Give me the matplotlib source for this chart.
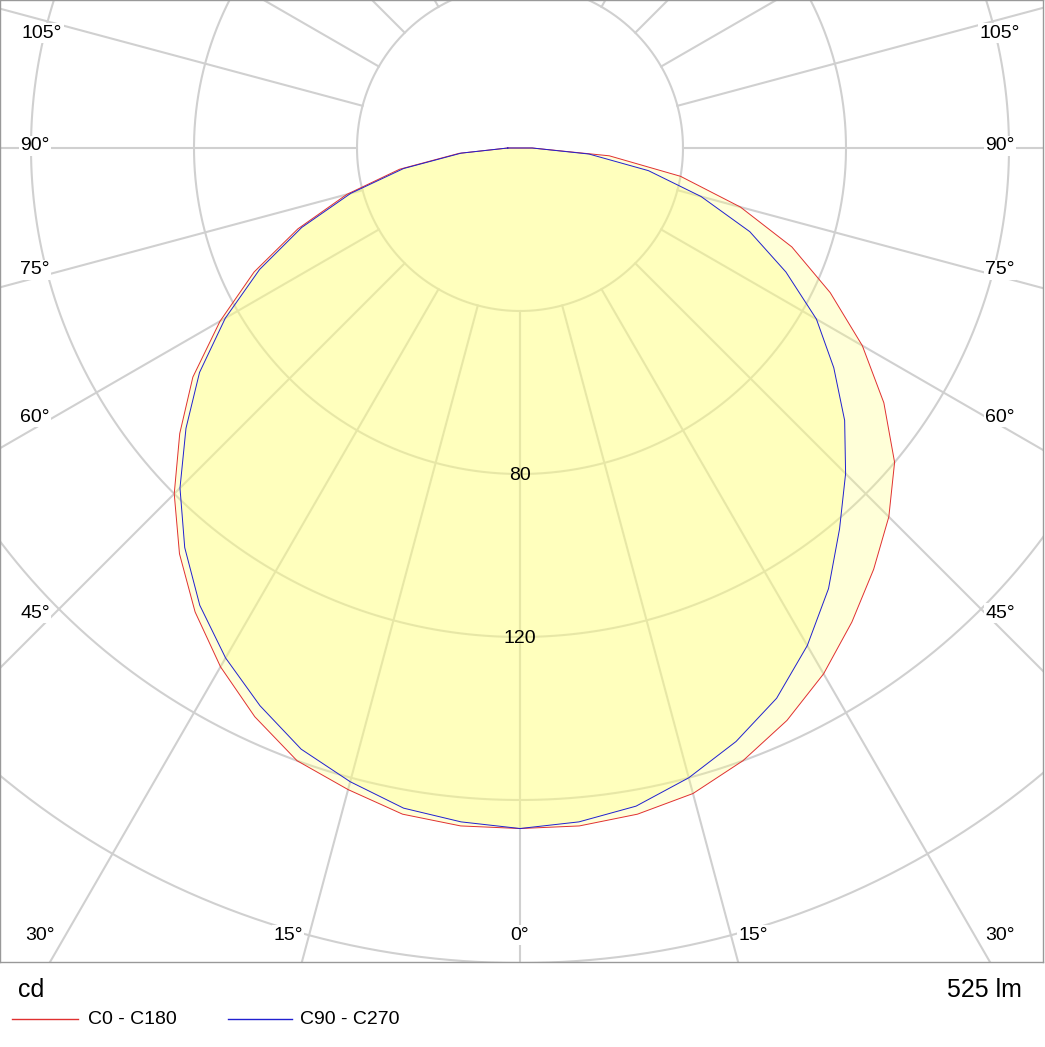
import numpy as np
import matplotlib
matplotlib.use("Agg")
import matplotlib.pyplot as plt
plt.rcParams['font.family'] = ['Liberation Sans', 'DejaVu Sans']

gamma = np.arange(0, 91, 5)
c0 = [167,167,166,164,160,155,149,142,135,128,120,109,97,84,71,56,40,22,3]      # C0 (right)
c180 = [167,167,166,163,160,154,147,139,130,120,109,98,85,72,58,44,30,15,3]     # C180 (left)
c90 = [167,166,164,160,155,149,141,132,122,113,104,94,84,72,60,46,32,17,3]      # C90 (right)
c270 = [167,166,164.5,161,157,151,144.5,137,128,118,107,96,83.5,70.5,57,43,29,14.5,3]  # C270 (left)
radii = [40, 80, 120, 160, 200, 240, 280]
radius_labels = {80: "80", 120: "120"}
angle_labels = ["105°", "90°", "75°", "60°", "45°", "30°", "15°", "0°"]
flux = "525 lm"
unit = "cd"

S = 4.075  # px per cd
CX, CY = 520, 148
def px(x, y):
    return (x - CX) / S, (CY - y) / S

W, H = 1045, 1047
fig = plt.figure(figsize=(W/100, H/100), dpi=100)
ax = fig.add_axes([0, (H-962)/H, 1043/W, 962/H])
ax.set_xlim(px(0, 0)[0], px(1043, 0)[0])
ax.set_ylim(px(0, 962)[1], px(0, 0)[1])
ax.set_xticks([]); ax.set_yticks([])
for s in ax.spines.values():
    s.set_color("#999999"); s.set_linewidth(1)

gc = "#d0d0d0"
t = np.linspace(0, 2*np.pi, 721)
for r in radii:
    ax.plot(r*np.cos(t), r*np.sin(t), color=gc, lw=1.5, zorder=1)
for a in range(0, 360, 15):
    ar = np.radians(a)
    ax.plot([40*np.sin(ar), 400*np.sin(ar)], [-40*np.cos(ar), -400*np.cos(ar)], color=gc, lw=1.5, zorder=1)

def curve(right, left):
    g = np.radians(gamma)
    r = np.array(right, float); l = np.array(left, float)
    xr, yr = r*np.sin(g), -r*np.cos(g)
    xl, yl = -l*np.sin(g), -l*np.cos(g)
    x = np.concatenate([xl[::-1], xr[1:]])
    y = np.concatenate([yl[::-1], yr[1:]])
    return x, y

for right, left, col in [(c0, c180, "#e03030"), (c90, c270, "#2020d0")]:
    x, y = curve(right, left)
    ax.fill(x, y, color="#ffff80", alpha=0.3, lw=0, zorder=2)
    ax.plot(np.append(x, x[0]), np.append(y, y[0]), color=col, lw=0.7, zorder=3)

for val, txt in radius_labels.items():
    ax.text(0, -val - 0.3, txt, ha="center", va="center", fontsize=14, zorder=5)

pos_left = [(42, 33), (35, 146), (35, 270), (35, 417), (35, 613), (40, 935), (288, 935), (520, 935)]
pos_right = [(1000, 33), (1000, 146), (1000, 270), (1000, 417), (1000, 613), (1000, 935), (753, 935)]
bb = dict(facecolor="white", edgecolor="none", pad=1)
for (p, lab) in zip(pos_left, angle_labels):
    ax.text(*px(*p), lab, ha="center", va="center", fontsize=14, bbox=bb, zorder=6)
for (p, lab) in zip(pos_right, angle_labels[:7]):
    ax.text(*px(*p), lab, ha="center", va="center", fontsize=14, bbox=bb, zorder=6)

fig.text(18/W, 1-990/H, unit, fontsize=18, ha="left", va="center")
fig.text(1022/W, 1-990/H, flux, fontsize=18, ha="right", va="center")
y = 1 - 1019/H
fig.add_artist(plt.Line2D([12/W, 78/W], [y, y], color="#e03030", lw=1))
fig.text(88/W, y, "C0 - C180", fontsize=14, va="center")
fig.add_artist(plt.Line2D([228/W, 292/W], [y, y], color="#2020d0", lw=1))
fig.text(300/W, y, "C90 - C270", fontsize=14, va="center")

fig.savefig("out.png", dpi=100)
